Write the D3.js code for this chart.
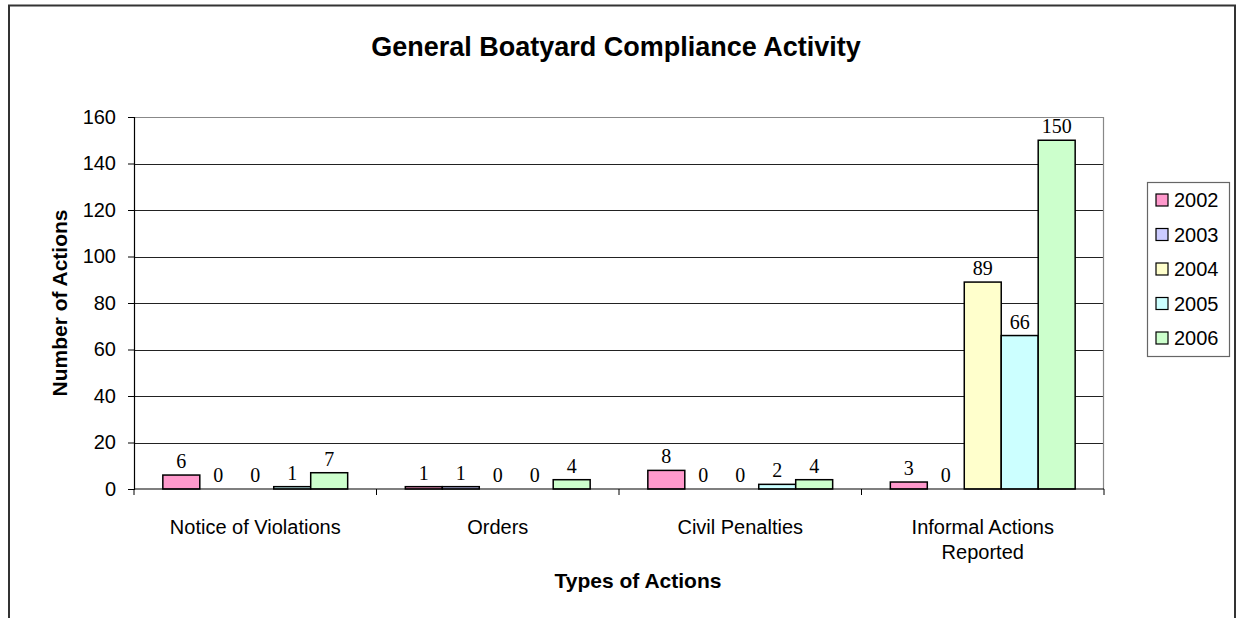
<!DOCTYPE html>
<html>
<head>
<meta charset="utf-8">
<script src="https://cdn.jsdelivr.net/npm/d3@7"></script>
<style>
  body { margin: 0; background: #fff; }
  svg { display: block; }
</style>
</head>
<body>
<script>
// chart data
const categories = ["Notice of Violations", "Orders", "Civil Penalties", "Informal Actions Reported"];
const years = ["2002", "2003", "2004", "2005", "2006"];
const v2002 = [6, 1, 8, 3];
const v2003 = [0, 1, 0, 0];
const v2004 = [0, 0, 0, 89];
const v2005 = [1, 0, 2, 66];
const v2006 = [7, 4, 4, 150];
const yTicks = [0, 20, 40, 60, 80, 100, 120, 140, 160];
const colors = ["#ff99cc", "#ccccff", "#ffffcc", "#ccffff", "#ccffcc"];

const seriesValues = [v2002, v2003, v2004, v2005, v2006];

const W = 1236, H = 618;
const margin = { left: 134, right: 132, top: 117, bottom: 129 };
const plotW = W - margin.left - margin.right;
const plotH = H - margin.top - margin.bottom;

const svg = d3.select("body").append("svg")
  .attr("width", W)
  .attr("height", H)
  .style("font-family", "Arial, 'Liberation Sans', sans-serif");

// outer chart border (bottom runs off the picture)
svg.append("path")
  .attr("d", `M9,${H} L9,5.5 L1235,5.5 L1235,${H}`)
  .attr("fill", "none")
  .attr("stroke", "#333")
  .attr("stroke-width", 2);

svg.append("text")
  .attr("x", 616)
  .attr("y", 56)
  .attr("text-anchor", "middle")
  .attr("font-weight", "bold")
  .attr("font-size", 27)
  .text("General Boatyard Compliance Activity");

const g = svg.append("g").attr("transform", `translate(${margin.left},${margin.top})`);

let x0 = d3.scaleBand().domain(categories).range([0, plotW]).padding(0);
let x1 = d3.scaleBand().domain(years).range([0, x0.bandwidth()]).paddingInner(0).paddingOuter(0.78);
let y = d3.scaleLinear().domain([0, 160]).range([plotH, 0]);

// gridlines
g.append("g")
  .selectAll("line")
  .data(yTicks.filter(t => t > 0 && t < 160))
  .join("line")
  .attr("x1", 0).attr("x2", plotW)
  .attr("y1", d => Math.round(y(d)) + 0.5).attr("y2", d => Math.round(y(d)) + 0.5)
  .attr("stroke", "#222")
  .attr("stroke-width", 1);

// plot area border, top and right
g.append("path")
  .attr("d", `M0,0.5 L${plotW - 0.5},0.5 L${plotW - 0.5},${plotH}`)
  .attr("fill", "none")
  .attr("stroke", "#888")
  .attr("stroke-width", 1.2);

// bars
const rows = categories.map((c, i) => ({ cat: c, vals: years.map((yr, j) => ({ year: yr, v: seriesValues[j][i], k: j })) }));

const groups = g.selectAll(".grp")
  .data(rows)
  .join("g")
  .attr("class", "grp")
  .attr("transform", d => `translate(${x0(d.cat)},0)`);

groups.selectAll("rect")
  .data(d => d.vals.filter(e => e.v > 0))
  .join("rect")
  .attr("x", d => x1(d.year))
  .attr("y", d => y(d.v))
  .attr("width", x1.bandwidth())
  .attr("height", d => plotH - y(d.v))
  .attr("fill", d => colors[d.k])
  .attr("stroke", "#000")
  .attr("stroke-width", 1.5);

groups.selectAll(".lbl")
  .data(d => d.vals)
  .join("text")
  .attr("class", "lbl")
  .attr("x", d => x1(d.year) + x1.bandwidth() / 2)
  .attr("y", d => y(d.v) - 7)
  .attr("text-anchor", "middle")
  .attr("font-family", "'Liberation Serif', 'Times New Roman', serif")
  .attr("font-size", 20)
  .text(d => d.v);

// y axis
const yAxis = d3.axisLeft(y).tickValues(yTicks).tickSize(6).tickPadding(12);
const ya = g.append("g").call(yAxis);
ya.select(".domain").attr("stroke", "#000").attr("stroke-width", 1.2);
ya.selectAll(".tick line").attr("stroke", "#000");
ya.selectAll(".tick text").attr("font-size", 20).attr("font-family", "Arial, 'Liberation Sans', sans-serif").attr("fill", "#000");

// x axis: baseline plus ticks between categories
g.append("line")
  .attr("x1", 0).attr("x2", plotW)
  .attr("y1", plotH).attr("y2", plotH)
  .attr("stroke", "#000").attr("stroke-width", 1.2);

g.append("g")
  .selectAll("line")
  .data(categories.map(c => x0(c)).concat([plotW]))
  .join("line")
  .attr("x1", d => d).attr("x2", d => d)
  .attr("y1", plotH).attr("y2", plotH + 6)
  .attr("stroke", "#000");

// category labels, wrapped like the original
const catLines = { "Informal Actions Reported": ["Informal Actions", "Reported"] };
g.append("g")
  .selectAll("text")
  .data(categories)
  .join("text")
  .attr("x", d => x0(d) + x0.bandwidth() / 2)
  .attr("y", plotH + 45)
  .attr("text-anchor", "middle")
  .attr("font-size", 20)
  .each(function (d) {
    const lines = catLines[d] || [d];
    d3.select(this).selectAll("tspan")
      .data(lines)
      .join("tspan")
      .attr("x", x0(d) + x0.bandwidth() / 2)
      .attr("dy", (l, i) => i === 0 ? 0 : 25)
      .text(l => l);
  });

// axis titles
svg.append("text")
  .attr("x", 638)
  .attr("y", 588)
  .attr("text-anchor", "middle")
  .attr("font-weight", "bold")
  .attr("font-size", 21)
  .text("Types of Actions");

svg.append("text")
  .attr("transform", `translate(67,${margin.top + plotH / 2}) rotate(-90)`)
  .attr("text-anchor", "middle")
  .attr("font-weight", "bold")
  .attr("font-size", 21)
  .text("Number of Actions");

// legend
const legend = svg.append("g").attr("transform", "translate(1147,182)");
const legStep = 34.5;
legend.append("rect")
  .attr("x", 0.5).attr("y", 0.5)
  .attr("width", 82).attr("height", 18 + legStep * 4 + 18)
  .attr("fill", "#fff")
  .attr("stroke", "#666")
  .attr("stroke-width", 1.2);

const li = legend.selectAll(".li")
  .data(years)
  .join("g")
  .attr("class", "li")
  .attr("transform", (d, i) => `translate(0,${18 + i * legStep})`);

li.append("rect")
  .attr("x", 9).attr("y", -6)
  .attr("width", 12).attr("height", 12)
  .attr("fill", (d, i) => colors[i])
  .attr("stroke", "#000")
  .attr("stroke-width", 1.2);

li.append("text")
  .attr("x", 27)
  .attr("y", 7)
  .attr("font-size", 20)
  .text(d => d);
</script>
</body>
</html>
